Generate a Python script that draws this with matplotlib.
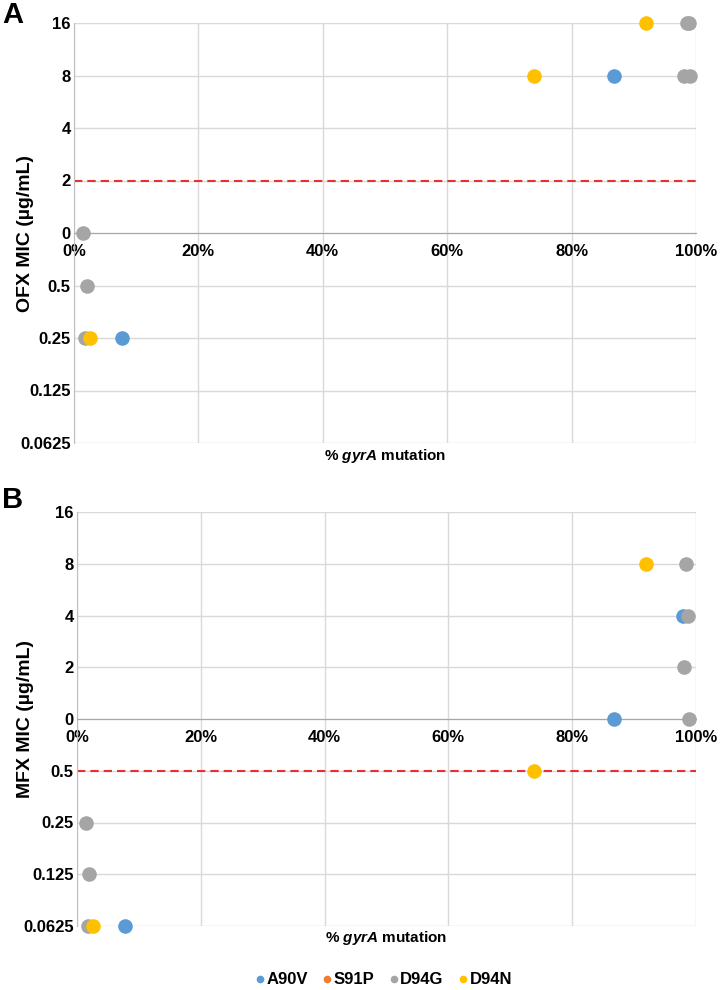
import numpy as np
import matplotlib
matplotlib.use("Agg")
import matplotlib.pyplot as plt
from matplotlib.lines import Line2D
from matplotlib.ticker import FixedLocator, FixedFormatter, NullLocator

plt.rcParams['font.family'] = ['Liberation Sans', 'DejaVu Sans']
plt.rcParams['mathtext.fontset'] = 'custom'
plt.rcParams['mathtext.it'] = 'Liberation Sans:bold:italic'

mutations = ["A90V", "S91P", "D94G", "D94N"]
colors = {"A90V": "#5B9BD5", "S91P": "#ED7D31", "D94G": "#A5A5A5", "D94N": "#FFC000"}

mic_levels = [0.0625, 0.125, 0.25, 0.5, 1, 2, 4, 8, 16]
mic_labels = ["0.0625", "0.125", "0.25", "0.5", "0", "2", "4", "8", "16"]
pct_ticks = [0, 20, 40, 60, 80, 100]

# panel A: OFX (x = % gyrA mutation, y = MIC)
ofx_x = {
    "A90V": [86.8, 7.7],
    "S91P": [],
    "D94G": [1.4, 2.1, 1.8, 98.6, 98.9, 98.0, 99.0],
    "D94N": [73.9, 92.0, 2.6],
}
ofx_y = {
    "A90V": [8, 0.25],
    "S91P": [],
    "D94G": [1, 0.5, 0.25, 16, 16, 8, 8],
    "D94N": [8, 16, 0.25],
}
ofx_breakpoint = 2

# panel B: MFX
mfx_x = {
    "A90V": [97.9, 86.8, 7.7],
    "S91P": [],
    "D94G": [98.4, 98.7, 98.1, 98.8, 1.4, 1.9, 1.8],
    "D94N": [91.9, 73.9, 2.6],
}
mfx_y = {
    "A90V": [4, 1, 0.0625],
    "S91P": [],
    "D94G": [8, 4, 2, 1, 0.25, 0.125, 0.0625],
    "D94N": [8, 0.5, 0.0625],
}
mfx_breakpoint = 0.5

W, H = 720, 990
fig = plt.figure(figsize=(7.2, 9.9), dpi=100)


def draw_panel(ax, xs, ys, bp, ylab, letter, letter_top):
    ax.set_yscale('log', base=2)
    ax.set_ylim(0.0625, 16)
    ax.set_xlim(0, 100)
    ax.yaxis.set_major_locator(FixedLocator(mic_levels))
    ax.yaxis.set_major_formatter(FixedFormatter(mic_labels))
    ax.yaxis.set_minor_locator(NullLocator())
    ax.set_xticks(pct_ticks)
    ax.set_xticklabels([f"{t}%" for t in pct_ticks])
    ax.grid(True, color="#D9D9D9", lw=1.0)
    ax.set_axisbelow(True)
    for s in ["top", "right"]:
        ax.spines[s].set_visible(False)
    ax.spines["left"].set_color("#BFBFBF")
    ax.spines["bottom"].set_position(("data", 1))
    ax.spines["bottom"].set_color("#A6A6A6")
    ax.tick_params(length=0, labelsize=12)
    ax.tick_params(axis="x", pad=8)
    ax.tick_params(axis="y", pad=2.5)
    for lab in ax.get_xticklabels() + ax.get_yticklabels():
        lab.set_fontweight("bold")

    ax.axhline(bp, color="#E8312F", lw=1.5, ls=(0, (4, 2.4)), zorder=2)

    for m in mutations:
        ax.plot(xs[m], ys[m], "o", color=colors[m], markersize=10.5,
                markeredgewidth=0, ls="none", zorder=3, clip_on=False)

    ax.text(0.5, -0.03, r"% $\it{gyrA}$ mutation", transform=ax.transAxes,
            ha="center", va="center", fontsize=11, fontweight="bold")
    pos = ax.get_position()
    fig.text(26 / W, pos.y0 + pos.height / 2, ylab, rotation=90, ha="center",
             va="center", fontsize=14, fontweight="bold")
    fig.text(2 / W, 1 - letter_top / H, letter, fontsize=21, fontweight="bold",
             va="top", ha="left")


ax1 = fig.add_axes([74 / W, 1 - 443 / H, 622 / W, 420 / H])
draw_panel(ax1, ofx_x, ofx_y, ofx_breakpoint, "OFX MIC (µg/mL)", "A", 1)

ax2 = fig.add_axes([77 / W, 1 - 926 / H, 619 / W, 414 / H])
draw_panel(ax2, mfx_x, mfx_y, mfx_breakpoint, "MFX MIC (µg/mL)", "B", 486)

handles = [Line2D([], [], marker="o", ls="none", color=colors[m], markersize=5.5,
                  markeredgewidth=0) for m in mutations]
leg = fig.legend(handles, mutations, loc="center", bbox_to_anchor=(383 / W, 1 - 980 / H),
                 ncol=4, frameon=False, handletextpad=0.05, columnspacing=0.8,
                 handlelength=0.7, prop={"weight": "bold", "size": 12})

fig.savefig("out.png", dpi=100)
